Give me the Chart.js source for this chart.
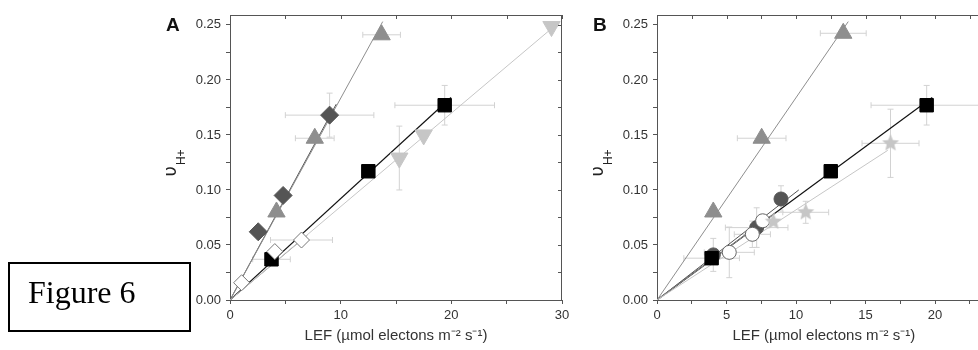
<!DOCTYPE html>
<html>
<head>
<meta charset="utf-8">
<style>
  body { margin: 0; width: 978px; height: 350px; overflow: hidden; position: relative; background: #fff; }
  canvas { position: absolute; top: 0; }
  #chartA { left: 150px; }
  #chartB { left: 580px; }
  .fig {
    position: absolute; left: 8px; top: 262px; width: 161px; height: 66px;
    border: 2px solid #000; padding-left: 18px;
    font-family: "Liberation Serif", "Times New Roman", serif; font-size: 32px; line-height: 57px;
  }
</style>
</head>
<body>
<canvas id="chartA" width="430" height="350"></canvas>
<canvas id="chartB" width="430" height="350"></canvas>
<div class="fig">Figure 6</div>

<script src="https://cdn.jsdelivr.net/npm/chart.js"></script>
<script>
// ---- Painel A ----
const triA_x = [4.2, 7.66, 13.7];
const triA_y = [0.080, 0.147, 0.241];
const triA_ex = [0, 1.75, 1.7];

const diaA_x = [2.55, 4.8, 9.0];
const diaA_y = [0.062, 0.095, 0.168];
const diaA_ex = [0, 0, 4.0];
const diaA_ey = [0, 0, 0.02];

const openDiaA_x = [1.05, 4.05, 6.46];
const openDiaA_y = [0.0157, 0.044, 0.0545];
const openDiaA_ex = [0, 0, 2.8];

const sqA_x = [3.75, 12.5, 19.4];
const sqA_y = [0.037, 0.117, 0.177];
const sqA_ex = [1.7, 0, 4.5];
const sqA_ey = [0, 0, 0.018];

const invA_x = [15.3, 17.5, 29.05];
const invA_y = [0.129, 0.150, 0.2485];
const invA_ey = [0.029, 0, 0];

// linhas de ajuste (x final, y final), saindo da origem
const fitA_tri = [13.8, 0.253];
const fitA_dia = [9.6, 0.178];
const fitA_open = [7.0, 0.059];
const fitA_sq = [19.97, 0.184];
const fitA_inv = [29.8, 0.253];

// ---- Painel B ----
const triB_x = [4.05, 7.53, 13.4];
const triB_y = [0.080, 0.147, 0.2424];
const triB_ex = [0, 1.75, 1.65];

const sqB_x = [3.93, 12.5, 19.4];
const sqB_y = [0.038, 0.117, 0.177];
const sqB_ex = [2.0, 0, 4.0];
const sqB_ey = [0, 0, 0.018];

const starB_x = [8.37, 10.7, 16.8];
const starB_y = [0.0712, 0.0797, 0.1424];
const starB_ex = [0, 1.65, 2.05];
const starB_ey = [0, 0.01, 0.031];

const circB_x = [4.05, 7.17, 8.92];
const circB_y = [0.041, 0.0658, 0.0918];
const circB_ex = [0, 2.25, 0];
const circB_ey = [0.015, 0.018, 0.012];

const openCircB_x = [5.2, 6.86, 7.6];
const openCircB_y = [0.0433, 0.0597, 0.072];
const openCircB_ex = [1.8, 1.3, 0];
const openCircB_ey = [0.023, 0.012, 0];

const fitB_tri = [13.76, 0.253];
const fitB_sq = [19.8, 0.184];
const fitB_star = [16.6, 0.136];
const fitB_circ = [10.2, 0.100];
const fitB_open = [8.5, 0.079];

const xTitle = 'LEF (µmol electons m⁻² s⁻¹)';
const yTicksStep = 0.025;
const FONT = '"Liberation Sans", Arial, sans-serif';

const GRAY = '#8e8e8e', DARK = '#555555', LIGHT = '#c6c6c6', ERR = '#d2d2d2';

// estrela cheia como imagem de pointStyle
function makeStar(color, r) {
  const c = document.createElement('canvas');
  c.width = c.height = 2 * r + 2;
  const g = c.getContext('2d');
  g.fillStyle = color;
  g.beginPath();
  for (let i = 0; i < 10; i++) {
    const rr = i % 2 ? r * 0.45 : r;
    const a = -Math.PI / 2 + i * Math.PI / 5;
    g.lineTo(r + 1 + rr * Math.cos(a), r + 1 + rr * Math.sin(a));
  }
  g.closePath();
  g.fill();
  return c;
}

const pts = (xs, ys) => xs.map((x, i) => ({ x: x, y: ys[i] }));

function points(xs, ys, style, fill, border, r, ex, ey, extra) {
  return Object.assign({
    data: pts(xs, ys), pointStyle: style, pointRadius: r, pointHoverRadius: r,
    backgroundColor: fill, borderColor: border, pointBorderWidth: 1,
    showLine: false, order: 1, errX: ex || [], errY: ey || []
  }, extra || {});
}

function fitLine(end, color, width) {
  return {
    data: [{ x: 0, y: 0 }, { x: end[0], y: end[1] }], showLine: true,
    borderColor: color, borderWidth: width || 1, pointRadius: 0, order: 10
  };
}

// barras de erro desenhadas antes dos marcadores
const errorBars = {
  id: 'errorBars',
  beforeDatasetsDraw(chart) {
    const { ctx, scales: { x, y } } = chart;
    ctx.save();
    ctx.strokeStyle = ERR;
    ctx.lineWidth = 1;
    chart.data.datasets.forEach(ds => {
      (ds.data || []).forEach((p, i) => {
        const px = x.getPixelForValue(p.x), py = y.getPixelForValue(p.y);
        const ex = ds.errX && ds.errX[i], ey = ds.errY && ds.errY[i];
        ctx.beginPath();
        if (ex) {
          const l = x.getPixelForValue(p.x - ex), r = x.getPixelForValue(p.x + ex);
          ctx.moveTo(l, py); ctx.lineTo(r, py);
          ctx.moveTo(l, py - 3); ctx.lineTo(l, py + 3);
          ctx.moveTo(r, py - 3); ctx.lineTo(r, py + 3);
        }
        if (ey) {
          const t = y.getPixelForValue(p.y + ey), b = y.getPixelForValue(p.y - ey);
          ctx.moveTo(px, t); ctx.lineTo(px, b);
          ctx.moveTo(px - 3, t); ctx.lineTo(px + 3, t);
          ctx.moveTo(px - 3, b); ctx.lineTo(px + 3, b);
        }
        ctx.stroke();
      });
    });
    ctx.restore();
  }
};

// moldura superior/direita com ticks espelhados, letra do painel e título do eixo y
const frame = {
  id: 'frame',
  afterDraw(chart, args, opts) {
    const { ctx, chartArea: a, scales: { x, y } } = chart;
    ctx.save();
    ctx.strokeStyle = '#555';
    ctx.lineWidth = 1;
    ctx.beginPath();
    ctx.moveTo(a.left, a.top + 0.5); ctx.lineTo(a.right, a.top + 0.5);
    ctx.moveTo(a.right - 0.5, a.top); ctx.lineTo(a.right - 0.5, a.bottom);
    x.ticks.forEach(t => {
      const px = Math.round(x.getPixelForValue(t.value)) + 0.5;
      ctx.moveTo(px, a.top); ctx.lineTo(px, a.top + 4);
    });
    y.ticks.forEach(t => {
      const py = Math.round(y.getPixelForValue(t.value)) + 0.5;
      ctx.moveTo(a.right, py); ctx.lineTo(a.right - 4, py);
    });
    ctx.stroke();

    ctx.fillStyle = '#111';
    ctx.font = 'bold 19px ' + FONT;
    ctx.textBaseline = 'middle';
    ctx.fillText(opts.label, a.left - 64, 26);

    ctx.fillStyle = '#222';
    ctx.translate(a.left - 54, (a.top + a.bottom) / 2 + 19);
    ctx.rotate(-Math.PI / 2);
    ctx.textBaseline = 'alphabetic';
    ctx.font = '18px "DejaVu Sans"';
    ctx.fillText('υ', 0, 0);
    const w = ctx.measureText('υ').width;
    ctx.font = '12px ' + FONT;
    ctx.fillText('H+', w + 1, 9);
    ctx.restore();
  }
};

function scales(xMax, xStep, xLabelEvery, yWidth) {
  const tickFont = { family: FONT, size: 13 };
  return {
    x: {
      type: 'linear', min: 0, max: xMax,
      afterFit: s => { s.height = 50; },
      ticks: {
        stepSize: xStep, includeBounds: false, autoSkip: false, maxRotation: 0,
        color: '#333', font: tickFont, padding: 4,
        callback: v => Math.abs(v / xLabelEvery - Math.round(v / xLabelEvery)) < 1e-6 ? String(v) : ''
      },
      grid: { drawOnChartArea: false, drawTicks: true, tickLength: 4, color: '#555' },
      border: { color: '#555', width: 1 },
      title: { display: true, text: xTitle, color: '#333', font: { family: FONT, size: 15 }, padding: { top: 0, bottom: 5 } }
    },
    y: {
      type: 'linear', min: 0, max: 0.259,
      afterFit: s => { s.width = yWidth; },
      ticks: {
        stepSize: yTicksStep, includeBounds: false, autoSkip: false,
        color: '#333', font: tickFont, padding: 5,
        callback: v => Math.round(v / yTicksStep) % 2 === 0 ? v.toFixed(2) : ''
      },
      grid: { drawOnChartArea: false, drawTicks: true, tickLength: 4, color: '#555' },
      border: { color: '#555', width: 1 }
    }
  };
}

function baseOptions(label, sc, padRight) {
  return {
    responsive: false, animation: false,
    layout: { padding: { top: 15, right: padRight, bottom: 0, left: 0 } },
    scales: sc,
    plugins: { legend: { display: false }, tooltip: { enabled: false }, frame: { label: label } }
  };
}

new Chart(document.getElementById('chartA'), {
  type: 'scatter',
  data: {
    datasets: [
      fitLine(fitA_inv, LIGHT),
      fitLine(fitA_sq, '#111', 1.2),
      fitLine(fitA_open, GRAY),
      fitLine(fitA_tri, GRAY),
      fitLine(fitA_dia, DARK),
      points(openDiaA_x, openDiaA_y, 'rectRot', '#fff', '#777', 8, openDiaA_ex),
      points(sqA_x, sqA_y, 'rect', '#000', '#000', 9.5, sqA_ex, sqA_ey),
      points(invA_x, invA_y, 'triangle', LIGHT, LIGHT, 10, null, invA_ey, { rotation: 180 }),
      points(triA_x, triA_y, 'triangle', GRAY, GRAY, 10, triA_ex),
      points(diaA_x, diaA_y, 'rectRot', DARK, DARK, 9, diaA_ex, diaA_ey)
    ]
  },
  options: baseOptions('A', scales(30, 5, 10, 80), 18),
  plugins: [errorBars, frame]
});

new Chart(document.getElementById('chartB'), {
  type: 'scatter',
  data: {
    datasets: [
      fitLine(fitB_star, LIGHT),
      fitLine(fitB_open, GRAY),
      fitLine(fitB_circ, DARK),
      fitLine(fitB_sq, '#111', 1.2),
      fitLine(fitB_tri, GRAY),
      points(starB_x, starB_y, makeStar(LIGHT, 9), LIGHT, LIGHT, 9, starB_ex, starB_ey),
      points(openCircB_x, openCircB_y, 'circle', '#fff', '#666', 7, openCircB_ex, openCircB_ey),
      points(sqB_x, sqB_y, 'rect', '#000', '#000', 9.5, sqB_ex, sqB_ey),
      points(circB_x, circB_y, 'circle', DARK, DARK, 7, circB_ex, circB_ey),
      points(triB_x, triB_y, 'triangle', GRAY, GRAY, 10, triB_ex)
    ]
  },
  options: baseOptions('B', scales(24, 2.5, 5, 77), 19.4),
  plugins: [errorBars, frame]
});
</script>
</body>
</html>
